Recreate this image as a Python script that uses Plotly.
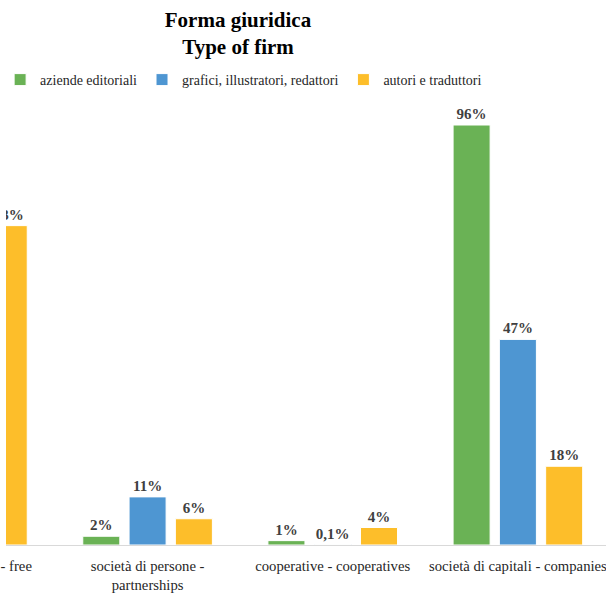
import plotly.graph_objects as go

categories = [
    "ditta individuale - free<br>lance",
    "società di persone -<br>partnerships",
    "cooperative - cooperatives",
    "società di capitali - companies",
]
series_names = ["aziende editoriali", "grafici, illustratori, redattori", "autori e traduttori"]
aziende = [1, 2, 1, 96]
grafici = [42, 11, 0.1, 47]
autori = [73, 6, 4, 18]
colors = ["#6AB255", "#4E96D2", "#FDBE2A"]

def fmt(v):
    return (f"{v:g}".replace(".", ",")) + "%"

W, H = 606, 596
fig = go.Figure()
for name, vals, col in zip(series_names, [aziende, grafici, autori], colors):
    fig.add_trace(go.Bar(
        x=list(range(len(categories))), y=vals, name=name,
        marker=dict(color=col, line=dict(color="white", width=1)),
        text=[fmt(v) for v in vals], textposition="outside",
        textfont=dict(family="Liberation Serif", size=15, color="#404040", weight="bold"),
    ))

fig.update_layout(
    width=W, height=H,
    margin=dict(l=0, r=0, t=100, b=51),
    paper_bgcolor="white", plot_bgcolor="white",
    barmode="group", bargap=0.25, bargroupgap=0.2,
    font=dict(family="Liberation Serif", size=14, color="#262626"),
    title=dict(text="<b>Forma giuridica<br>Type of firm</b>", x=238 / W, xanchor="center",
               y=1 - 27 / H, yanchor="top", yref="container",
               font=dict(family="Liberation Serif", size=21, color="#000000")),
    legend=dict(orientation="h", x=240 / W, xanchor="center", y=1 + 20 / 445, yanchor="middle",
                font=dict(family="Liberation Serif", size=14, color="#262626"),
                itemwidth=30, tracegroupgap=0),
    showlegend=True,
    xaxis=dict(range=[(0 + 44) / 187, (606 + 44) / 187],
               tickmode="array", tickvals=[1, 2, 3], ticktext=categories[1:],
               showline=True, linecolor="#D9D9D9", linewidth=1, ticks="",
               ticklabelstandoff=7, ticklabeloverflow="allow",
               showgrid=False, zeroline=False,
               tickfont=dict(family="Liberation Serif", size=14.7, color="#262626")),
    yaxis=dict(range=[0, 445 / 4.375], visible=False, showgrid=False, zeroline=False),
)
# first category label, mostly off-page (chart is cropped at the left)
fig.add_annotation(text=categories[0], xref="paper", yref="paper", x=-40 / W, y=0,
                   yshift=-11, xanchor="center", yanchor="top", showarrow=False,
                   font=dict(family="Liberation Serif", size=14.7, color="#262626"))
fig.write_html("out.html")
